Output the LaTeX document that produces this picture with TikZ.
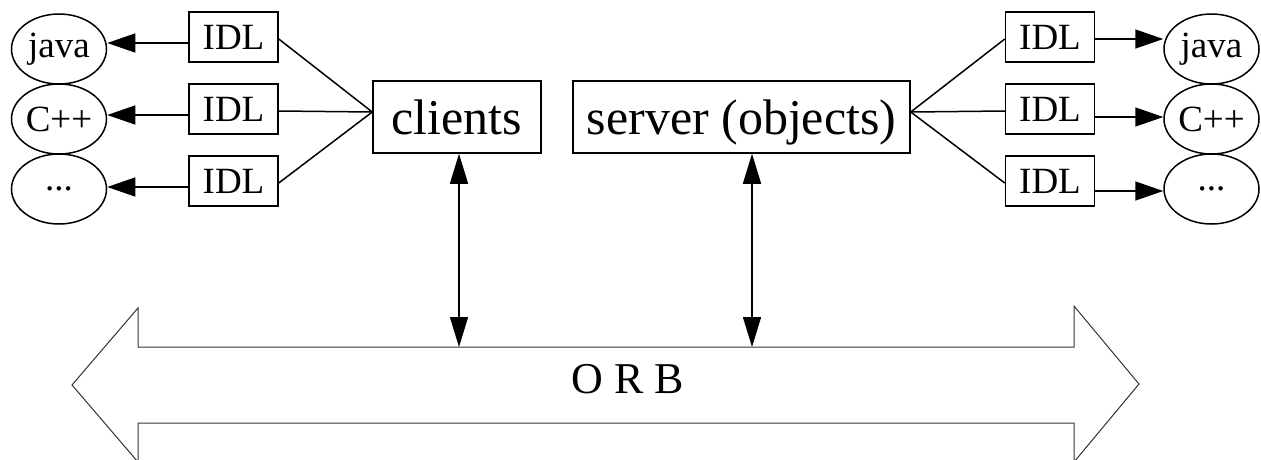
\documentclass[tikz,border=0pt]{standalone}
\usepackage{fontspec}
\setmainfont{Liberation Serif}
\usetikzlibrary{shapes.geometric,arrows.meta}
\newcommand\moredots{...}
\tikzset{
  lang/.style={draw,ellipse,minimum width=95pt,minimum height=70pt,inner sep=0pt,font=\fontsize{37}{40}\selectfont},
  idl/.style={draw,rectangle,minimum width=89pt,minimum height=50pt,inner sep=0pt,font=\fontsize{37}{40}\selectfont},
  app/.style={draw,rectangle,minimum height=72pt,inner sep=0pt,text height=34pt,text depth=0pt,font=\fontsize{50}{54}\selectfont},
  tip/.style={-{Triangle[length=28pt,width=19pt]}},
  bustip/.style={{Triangle[length=30pt,width=18pt]}-{Triangle[length=30pt,width=18pt]}},
}
\begin{document}
\begin{tikzpicture}[x=1pt,y=-1pt,line width=1.5pt]
\useasboundingbox (0,0) rectangle (1261,459);
\node[app,minimum width=168pt] (clients) at (457,117) {clients};
\node[app,minimum width=337pt] (server) at (741.5,117) {server (objects)};
\foreach \n/\t/\ye/\yi/\dl/\dr in {1/java/49/37/6/2,2/C++/119/109/6/8,3/\moredots/189/181/6/10} {
  \node[lang] (jL\n) at (59,\ye) {\t};
  \node[idl] (iL\n) at (233.5,\yi) {IDL};
  \node[idl] (iR\n) at (1050,\yi) {IDL};
  \node[lang] (jR\n) at (1211.5,\ye) {\t};
  \coordinate (aL\n) at ([yshift=-\dl pt]iL\n.west);
  \coordinate (aR\n) at ([yshift=-\dr pt]iR\n.east);
  \draw[tip] (aL\n) -- (aL\n -| jL\n.east);
  \draw[tip] (aR\n) -- (aR\n -| jR\n.west);
  \draw ([yshift=-2pt]iL\n.east) -- ([yshift=5pt]clients.west);
  \draw ([yshift=5pt]server.east) -- ([yshift=-2pt]iR\n.west);
}
% the ORB
\draw[line width=1pt,black!80] (72,385) -- (138,308) -- (138,347) -- (1074,347) -- (1074,306)
  -- (1139,384) -- (1074,462) -- (1074,423) -- (138,423) -- (138,462) -- cycle;
\node[font=\fontsize{44}{48}\selectfont,anchor=base] (orb) at (628,393) {O R B};
\coordinate (busC) at (459,347);
\coordinate (busS) at (752,347);
\draw[bustip] (clients.south -| busC) -- (busC);
\draw[bustip] (server.south -| busS) -- (busS);
\end{tikzpicture}
\end{document}
